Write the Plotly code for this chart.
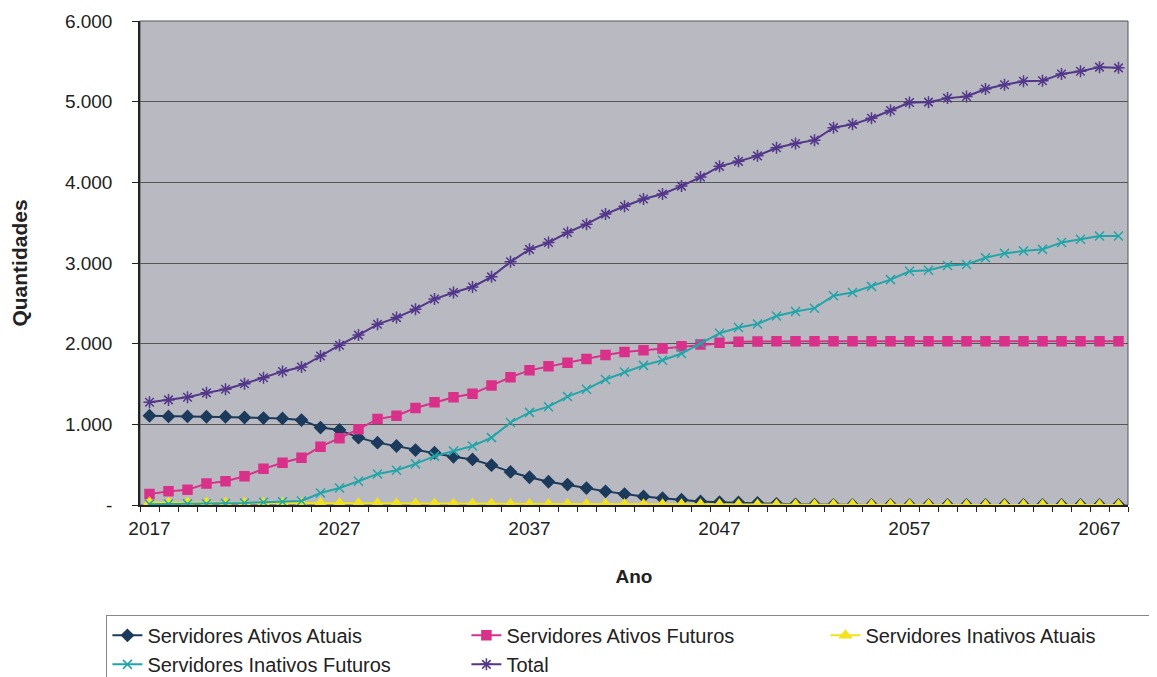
import plotly.graph_objects as go

anos = list(range(2017, 2069))

ativos_atuais = [1106, 1098, 1098, 1094, 1094, 1085, 1078, 1073, 1053, 960,
                 931, 835, 773, 731, 681, 648, 598, 565, 494, 410,
                 344, 288, 253, 210, 169, 135, 106, 85, 65, 44,
                 35, 31, 25, 15, 8, 4, 2, 1, 0, 0,
                 0, 0, 0, 0, 0, 0, 0, 0, 0, 0,
                 0, 0]

ativos_futuros = [135, 169, 190, 265, 294, 356, 448, 523, 585, 723,
                  828, 940, 1065, 1106, 1203, 1273, 1335, 1378, 1481, 1585,
                  1669, 1719, 1763, 1810, 1860, 1898, 1919, 1940, 1969, 1990,
                  2010, 2023, 2028, 2030, 2030, 2030, 2030, 2030, 2030, 2030,
                  2030, 2030, 2030, 2030, 2030, 2030, 2030, 2030, 2030, 2030,
                  2030, 2030]

inativos_atuais = [30, 29, 28, 27, 26, 25, 24, 23, 22, 21,
                   20, 19, 18, 17, 16, 15, 14, 13, 12, 11,
                   10, 10, 9, 9, 8, 8, 7, 7, 6, 6,
                   5, 5, 4, 4, 4, 3, 3, 3, 2, 2,
                   2, 2, 1, 1, 1, 1, 1, 1, 0, 0,
                   0, 0]

inativos_futuros = [10, 12, 14, 15, 18, 25, 35, 40, 50, 148,
                    210, 294, 385, 431, 510, 606, 669, 731, 835, 1023,
                    1148, 1219, 1344, 1434, 1556, 1648, 1731, 1794, 1878, 2003,
                    2128, 2200, 2244, 2344, 2398, 2440, 2594, 2635, 2710, 2794,
                    2898, 2910, 2969, 2981, 3065, 3119, 3148, 3169, 3253, 3294,
                    3335, 3335]

total = [1273, 1303, 1335, 1390, 1435, 1503, 1578, 1656, 1710, 1848,
         1981, 2106, 2240, 2323, 2428, 2553, 2635, 2703, 2828, 3015,
         3169, 3253, 3378, 3481, 3606, 3703, 3794, 3856, 3953, 4065,
         4198, 4260, 4328, 4428, 4481, 4523, 4678, 4719, 4794, 4890,
         4990, 4994, 5044, 5065, 5156, 5210, 5253, 5260, 5344, 5378,
         5428, 5419]

y_ticks = [0, 1000, 2000, 3000, 4000, 5000, 6000]
y_labels = ["-", "1.000", "2.000", "3.000", "4.000", "5.000", "6.000"]
x_ticks = [2017, 2027, 2037, 2047, 2057, 2067]

series = [
    ("Servidores Ativos Atuais", ativos_atuais, "#1B3A5C", "diamond", 9),
    ("Servidores Ativos Futuros", ativos_futuros, "#D9308A", "square", 9),
    ("Servidores Inativos Atuais", inativos_atuais, "#F2E21B", "triangle-up", 10),
    ("Servidores Inativos Futuros", inativos_futuros, "#22A5A8", "x-thin-open", 9),
    ("Total", total, "#52378A", "asterisk-open", 10),
]

fig = go.Figure()
for name, vals, color, symbol, size in series:
    fig.add_trace(go.Scatter(
        x=anos, y=vals, name=name, mode="lines+markers",
        line=dict(color=color, width=2),
        marker=dict(symbol=symbol, size=size, color=color,
                    line=dict(color=color, width=1.5)),
    ))

fam = "Liberation Sans, Arial, sans-serif"

# the page body adds an 8px offset, so the margins are shifted by it
fig.update_layout(
    width=1157, height=677,
    margin=dict(l=132, r=37, t=13, b=180, autoexpand=False),
    paper_bgcolor="white",
    plot_bgcolor="#B9B9C1",
    font=dict(family=fam, size=19, color="#222"),
    showlegend=True,
    legend=dict(
        orientation="h", x=-0.034, y=-0.227, xanchor="left", yanchor="top",
        entrywidth=314, entrywidthmode="pixels",
        bordercolor="#888", borderwidth=1, bgcolor="white",
        font=dict(family=fam, size=20, color="#222"),
        tracegroupgap=0,
    ),
    xaxis=dict(
        range=[2016.5, 2068.5], tickvals=x_ticks, showgrid=False,
        showline=True, linecolor="#222", linewidth=1.5,
        ticks="", zeroline=False, ticklabelstandoff=5,
        minor=dict(ticks="outside", tick0=2016.5, dtick=1, ticklen=5,
                   tickcolor="#222", showgrid=False),
        title=dict(text="<b>Ano</b>", font=dict(size=19), standoff=32),
    ),
    yaxis=dict(
        range=[0, 6000], tickvals=y_ticks, ticktext=y_labels,
        showgrid=True, gridcolor="#555", gridwidth=1,
        showline=True, linecolor="#222", linewidth=1.5, mirror=False,
        ticks="outside", ticklen=6, tickcolor="#222", zeroline=False,
        ticklabelstandoff=16,
        title=dict(text="<b>Quantidades</b>", font=dict(size=21), standoff=40),
    ),
)

fig.add_shape(type="rect", xref="paper", yref="paper", x0=0, x1=1, y0=0, y1=1,
              line=dict(color="#555", width=1), layer="below")

fig.write_html("out.html")
